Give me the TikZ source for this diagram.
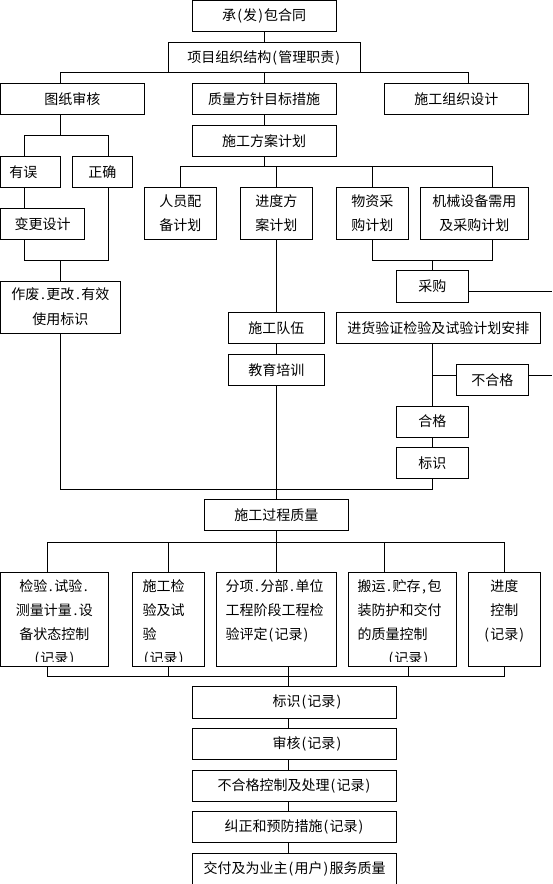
\documentclass[tikz,border=0pt]{standalone}
\usepackage{fontspec}
\newfontfamily\cjk{Noto Sans CJK SC}
\newcommand\cjkf{\cjk\fontsize{14}{24}\selectfont}
\newcommand\hw[1]{\makebox[7pt]{#1}}
\begin{document}
\begin{tikzpicture}[x=1pt,y=-1pt,
 bx/.style 2 args={draw, line width=1pt, inner sep=0pt, font=\cjkf, align=center, minimum width=#1pt, minimum height=#2pt},
 txt/.style={inner sep=0pt, font=\cjkf},
 ln/.style={line width=1pt}]
\useasboundingbox (0,0) rectangle (552,884);
\fill[white] (0,0) rectangle (552,884);
% nodes
\node[bx={144}{30.8}] (A) at (264.2,15.9) {承\hw{(}发\hw{)}包合同};
\node[bx={191.5}{30.4}] (B) at (264.35,57.5) {项目组织结构\hw{(}管理职责\hw{)}};
\node[bx={143.8}{31}] (C) at (72.4,98.8) {图纸审核};
\node[bx={144}{31}] (D) at (264.2,98.8) {质量方针目标措施};
\node[bx={144}{31}] (E) at (456.4,98.8) {施工组织设计};
\node[bx={144}{30.7}] (J) at (264.2,140.65) {施工方案计划};
\node[bx={59.7}{31}] (F) at (30.35,171.8) {\makebox[42pt][l]{有误}};
\node[bx={60.2}{31}] (G) at (102.3,171.8) {正确};
\node[bx={84}{30.7}] (H) at (42.5,223.65) {变更设计};
\node[bx={119.9}{52.3}] (I) at (60.45,307.15) {作废\hw{.}更改\hw{.}有效\\[1pt]使用标识};
\node[bx={71.9}{51.7}] (K) at (180.25,213.15) {人员配\\备计划};
\node[bx={71.9}{51.7}] (L) at (276.35,213.15) {进度方\\案计划};
\node[bx={72.2}{51.7}] (M) at (372.3,213.15) {物资采\\购计划};
\node[bx={108.1}{51.7}] (N) at (474.35,213.15) {机械设备需用\\及采购计划};
\node[bx={71.8}{32}] (O) at (432.3,286.3) {采购};
\node[bx={95.7}{31}] (P) at (276.35,327.8) {施工队伍};
\node[bx={204.2}{31}] (Q) at (438.3,327.8) {进货验证检验及试验计划安排};
\node[bx={95.7}{31}] (R) at (276.35,369.8) {教育培训};
\node[bx={72.2}{31}] (T) at (492.3,379.8) {不合格};
\node[bx={71.8}{31.3}] (S) at (432.3,421.65) {合格};
\node[bx={71.8}{31}] (U) at (432.3,462.8) {标识};
\node[bx={144.3}{31}] (V) at (276.35,514.8) {施工过程质量};
\node[bx={107.9}{94}] (W1) at (54.45,619.3) {};
\node[bx={72.1}{94}] (W2) at (168.45,619.3) {};
\node[bx={119.7}{94}] (W3) at (276.35,619.3) {};
\node[bx={108.1}{94}] (W4) at (402.55,619.3) {};
\node[bx={72.2}{94}] (W5) at (504.3,619.3) {};
\begin{scope}
\clip (0,572) rectangle (552,661);
\node[txt, align=center] (w1t) at (54.45,623) {检验\hw{.}试验\hw{.}\\测量计量\hw{.}设\\备状态控制\\\hw{(}记录\hw{)}};
\node[txt, align=left, anchor=west] (w2t) at (142.5,623) {施工检\\验及试\\验\\\hw{(}记录\hw{)}};
\node[txt, align=left, anchor=west] (w4t) at (357.3,623) {搬运\hw{.}贮存\hw{,}包\\装防护和交付\\的质量控制\\\hspace*{30pt}\hw{(}记录\hw{)}};
\end{scope}
\node[txt, align=left, anchor=west] (w3t) at (225.3,611) {分项\hw{.}分部\hw{.}单位\\工程阶段工程检\\验评定\hw{(}记录\hw{)}};
\node[txt, align=center] (w5t) at (504.3,611) {进度\\控制\\\hw{(}记录\hw{)}};
\node[bx={204.4}{32}] (X1) at (294.5,702) {\makebox[96pt][r]{标识\hw{(}记录\hw{)}}};
\node[bx={204.4}{30.7}] (X2) at (294.5,743.65) {\makebox[96pt][r]{审核\hw{(}记录\hw{)}}};
\node[bx={204.4}{31}] (X3) at (294.5,785.5) {不合格控制及处理\hw{(}记录\hw{)}};
\node[bx={204.4}{30.6}] (X4) at (294.5,827) {纠正和预防措施\hw{(}记录\hw{)}};
\node[bx={204.4}{31.7}] (X5) at (294.5,869.15) {交付及为业主\hw{(}用户\hw{)}服务质量};
% connectors
\draw[ln] (A.south) -- (A.south |- B.north);
\coordinate (tb1) at (60.5,72.7);
\coordinate (tb2) at (468.2,72.7);
\draw[ln] (tb1 |- C.north) -- (tb1) -- (tb2) -- (tb2 |- E.north);
\draw[ln] (D.north) -- (D.north |- B.south);
\draw[ln] (D.south) -- (J.north);
\coordinate (cb0) at (60.5,135);
\coordinate (cb1) at (24.3,135);
\coordinate (cb2) at (108.4,135);
\draw[ln] (cb0 |- C.south) -- (cb0);
\draw[ln] (cb1 |- F.north) -- (cb1) -- (cb2) -- (cb2 |- G.north);
\draw[ln] (cb1 |- F.south) -- (cb1 |- H.north);
\coordinate (eb1) at (24.3,260);
\coordinate (eb2) at (108.4,260);
\draw[ln] (eb1 |- H.south) -- (eb1) -- (eb2) -- (eb2 |- G.south);
\draw[ln] (cb0 |- eb1) -- (cb0 |- I.north);
\coordinate (gb1) at (60.5,489.3);
\coordinate (gb2) at (432.3,489.3);
\draw[ln] (gb1 |- I.south) -- (gb1) -- (gb2) -- (U.south);
\coordinate (jb0) at (264.2,166.3);
\coordinate (jb1) at (180.6,166.3);
\coordinate (jb2) at (492.2,166.3);
\draw[ln] (J.south) -- (jb0);
\draw[ln] (jb1 |- K.north) -- (jb1) -- (jb2) -- (jb2 |- N.north);
\draw[ln] (L.north) -- (L.north |- jb0);
\draw[ln] (M.north) -- (M.north |- jb0);
\coordinate (mb1) at (372.3,260);
\coordinate (mb2) at (492.2,260);
\draw[ln] (M.south) -- (mb1) -- (mb2) -- (mb2 |- N.south);
\draw[ln] (O.north) -- (O.north |- mb1);
\coordinate (ob) at (552,291.5);
\draw[ln] (O.east |- ob) -- (ob);
\draw[ln] (L.south) -- (P.north);
\draw[ln] (P.south) -- (R.north);
\draw[ln] (R.south) -- (V.north);
\draw[ln] (Q.south -| S.north) -- (S.north);
\coordinate (nb1) at (432.3,375.5);
\coordinate (nb2) at (552,375.5);
\draw[ln] (nb1) -- (nb1 -| T.west);
\draw[ln] (nb1 -| T.east) -- (nb2);
\draw[ln] (S.south) -- (U.north);
\coordinate (vb0) at (276.35,542);
\coordinate (vb1) at (47.9,542);
\coordinate (vb2) at (504.3,542);
\coordinate (vb4) at (384.4,542);
\draw[ln] (V.south) -- (vb0);
\draw[ln] (vb1 |- W1.north) -- (vb1) -- (vb2) -- (W5.north);
\draw[ln] (W2.north) -- (W2.north |- vb0);
\draw[ln] (W3.north) -- (vb0);
\draw[ln] (vb4) -- (vb4 |- W4.north);
\coordinate (wb1) at (47.9,676);
\coordinate (wb2) at (504.3,676);
\coordinate (wb3) at (288.5,676);
\coordinate (wb4) at (408.4,676);
\draw[ln] (wb1 |- W1.south) -- (wb1) -- (wb2) -- (W5.south);
\draw[ln] (W2.south) -- (W2.south |- wb1);
\draw[ln] (wb3 |- W3.south) -- (wb3) -- (wb3 |- X1.north);
\draw[ln] (wb4 |- W4.south) -- (wb4);
\draw[ln] (wb3 |- X1.south) -- (wb3 |- X2.north);
\draw[ln] (wb3 |- X2.south) -- (wb3 |- X3.north);
\draw[ln] (wb3 |- X3.south) -- (wb3 |- X4.north);
\draw[ln] (wb3 |- X4.south) -- (wb3 |- X5.north);
\end{tikzpicture}
\end{document}
